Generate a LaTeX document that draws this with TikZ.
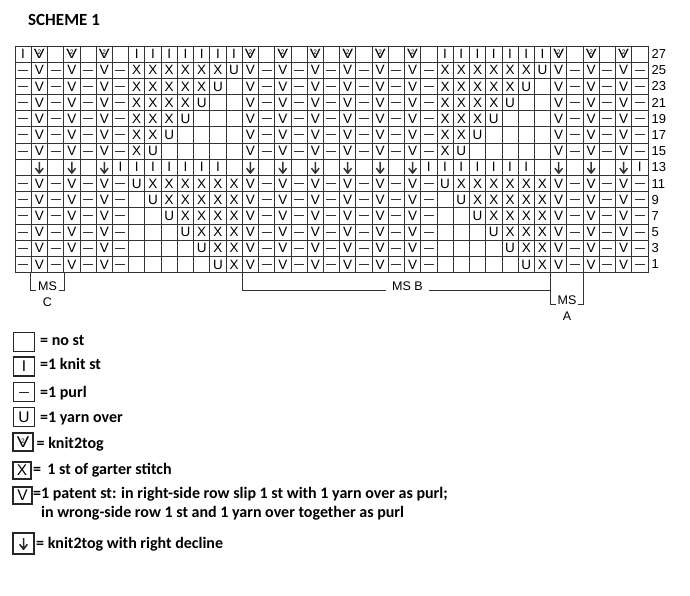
\documentclass[tikz,border=0pt]{standalone}
\usepackage{graphicx}
\usepackage{fontspec}
\setsansfont{Liberation Sans}
\newfontfamily\legfont{Carlito}
\usetikzlibrary{arrows.meta, positioning, calc}

\def\symsz{1}

\begin{document}
\begin{tikzpicture}[
    x=1pt, y=-1pt,
    sym size/.code={\def\symsz{#1}},
    cell/.style={rectangle, draw=black!80, line width=0.8pt, minimum width=16.23pt, minimum height=16.18pt, inner sep=0pt, font=\sffamily\fontsize{13.5}{13.5}\selectfont},
    legbox/.style={draw=black!85, line width=1.1pt, minimum width=21pt, minimum height=19pt, sym size=1.35, font=\sffamily\fontsize{15.5}{15.5}\selectfont},
    st o/.style={cell, node contents={}},
    st k/.style={cell, node contents=I},
    st x/.style={cell, node contents=X},
    st v/.style={cell, node contents=V},
    st u/.style={cell, node contents=U},
    st t/.style={cell, node contents={\ooalign{\scalebox{1.2}[1]{V}\cr\hidewidth\raisebox{3.8pt}{\fontsize{6.5}{6.5}\selectfont 2}\hidewidth\cr}}},
    st p/.style={cell, node contents={}, path picture={
        \draw[shift={(path picture bounding box.center)}, scale=\symsz, line width=1pt]
            (-5pt,0pt) -- (5pt,0pt);}},
    st d/.style={cell, node contents={}, path picture={
        \draw[shift={(path picture bounding box.center)}, scale=\symsz, line width=1.5pt, line join=round]
            (0pt,5.5pt) -- (0pt,-5.6pt) (-3.8pt,-0.8pt) -- (0pt,-5.8pt) -- (3.8pt,-0.8pt);}},
    rownum/.style={anchor=west, inner sep=0pt, font=\sffamily\fontsize{13}{13}\selectfont},
    mslbl/.style={anchor=base, inner xsep=1.5pt, inner ysep=0pt, font=\sffamily\fontsize{12.5}{12.5}\selectfont},
    bracket/.style={draw=black!80, line width=0.8pt},
    legtext/.style={anchor=base west, inner sep=0pt, align=left, font=\legfont\bfseries\fontsize{16}{19}\selectfont}
]
    \useasboundingbox (0,0) rectangle (690,596);

    \node[anchor=base west, inner sep=0pt, font=\legfont\bfseries\fontsize{17}{17}\selectfont] (title) at (28,26) {SCHEME 1};

    % chart, top row first (row 27 down to row 1)
    \foreach \row [count=\r] in {
        {k,t,o,t,o,t,o,k,k,k,k,k,k,k,t,o,t,o,t,o,t,o,t,o,t,o,k,k,k,k,k,k,k,t,o,t,o,t,o},
        {p,v,p,v,p,v,p,x,x,x,x,x,x,u,v,p,v,p,v,p,v,p,v,p,v,p,x,x,x,x,x,x,u,v,p,v,p,v,p},
        {p,v,p,v,p,v,p,x,x,x,x,x,u,o,v,p,v,p,v,p,v,p,v,p,v,p,x,x,x,x,x,u,o,v,p,v,p,v,p},
        {p,v,p,v,p,v,p,x,x,x,x,u,o,o,v,p,v,p,v,p,v,p,v,p,v,p,x,x,x,x,u,o,o,v,p,v,p,v,p},
        {p,v,p,v,p,v,p,x,x,x,u,o,o,o,v,p,v,p,v,p,v,p,v,p,v,p,x,x,x,u,o,o,o,v,p,v,p,v,p},
        {p,v,p,v,p,v,p,x,x,u,o,o,o,o,v,p,v,p,v,p,v,p,v,p,v,p,x,x,u,o,o,o,o,v,p,v,p,v,p},
        {p,v,p,v,p,v,p,x,u,o,o,o,o,o,v,p,v,p,v,p,v,p,v,p,v,p,x,u,o,o,o,o,o,v,p,v,p,v,p},
        {o,d,o,d,o,d,k,k,k,k,k,k,k,o,d,o,d,o,d,o,d,o,d,o,d,k,k,k,k,k,k,k,o,d,o,d,o,d,k},
        {p,v,p,v,p,v,p,u,x,x,x,x,x,x,v,p,v,p,v,p,v,p,v,p,v,p,u,x,x,x,x,x,x,v,p,v,p,v,p},
        {p,v,p,v,p,v,p,o,u,x,x,x,x,x,v,p,v,p,v,p,v,p,v,p,v,p,o,u,x,x,x,x,x,v,p,v,p,v,p},
        {p,v,p,v,p,v,p,o,o,u,x,x,x,x,v,p,v,p,v,p,v,p,v,p,v,p,o,o,u,x,x,x,x,v,p,v,p,v,p},
        {p,v,p,v,p,v,p,o,o,o,u,x,x,x,v,p,v,p,v,p,v,p,v,p,v,p,o,o,o,u,x,x,x,v,p,v,p,v,p},
        {p,v,p,v,p,v,p,o,o,o,o,u,x,x,v,p,v,p,v,p,v,p,v,p,v,p,o,o,o,o,u,x,x,v,p,v,p,v,p},
        {p,v,p,v,p,v,p,o,o,o,o,o,u,x,v,p,v,p,v,p,v,p,v,p,v,p,o,o,o,o,o,u,x,v,p,v,p,v,p}}
    {
        \foreach \s [count=\c] in \row
            \node[st \s, name=s-\r-\c, at={({15+(\c-0.5)*16.23},{46+(\r-0.5)*16.18})}];
    }

    % row numbers
    \foreach \n [count=\r] in {27,25,23,21,19,17,15,13,11,9,7,5,3,1}
        \node[rownum] (n-\r) at ({651.5},{46+(\r-0.5)*16.18}) {\n};

    % pattern repeats under the chart
    \node[mslbl] (msc) at (47.5,290) {MS};
    \node[mslbl] (mscc) at (47.5,306) {C};
    \draw[bracket] (s-14-2.south west) |- (msc.base west);
    \draw[bracket] (s-14-3.south east) |- (msc.base east);

    \node[mslbl, inner xsep=6.5pt] (msb) at (407.5,290) {MS B};
    \draw[bracket] (s-14-14.south east) |- (msb.base west);
    \draw[bracket] (msb.base east) -- (msb.base east -| s-14-34.south west);

    \node[mslbl] (msa) at (567,304) {MS};
    \node[mslbl] (msaa) at (567,320) {A};
    \draw[bracket] (s-14-34.south west) |- (msa.base west);
    \draw[bracket] (s-14-35.south east) |- (msa.base east);

    % legend
    \node[st o, legbox, name=lg1, at={(24,342)}];
    \node[st k, legbox, name=lg2, at={(24,366.5)}];
    \node[st p, legbox, name=lg3, at={(24,392)}];
    \node[st u, legbox, name=lg4, at={(24,417)}];
    \node[st t, legbox, minimum width=20pt, minimum height=18pt, name=lg5, at={(23,442)}];
    \node[st x, legbox, minimum width=18pt, minimum height=17pt, name=lg6, at={(22,470.5)}];
    \node[st v, legbox, minimum width=19pt, minimum height=17pt, name=lg7, at={(22.5,495.5)}];
    \node[st d, legbox, minimum width=21pt, minimum height=21pt, name=lg8, at={(23.5,543.5)}];

    \node[legtext] (lt1) at (40,345) {= no st};
    \node[legtext] (lt2) at (40,369) {=1 knit st};
    \node[legtext] (lt3) at (40,397) {=1 purl};
    \node[legtext] (lt4) at (40,422) {=1 yarn over};
    \node[legtext] (lt5) at (36.5,448) {= knit2tog};
    \node[legtext] (lt6) at (33,474) {= \,1 st of garter stitch};
    \node[legtext] (lt7) at (33,517) {=1 patent st: in right-side row slip 1 st with 1 yarn over as purl;\\\hphantom{=}in wrong-side row 1 st and 1 yarn over together as purl};
    \node[legtext] (lt8) at (36,548) {= knit2tog with right decline};
\end{tikzpicture}
\end{document}
